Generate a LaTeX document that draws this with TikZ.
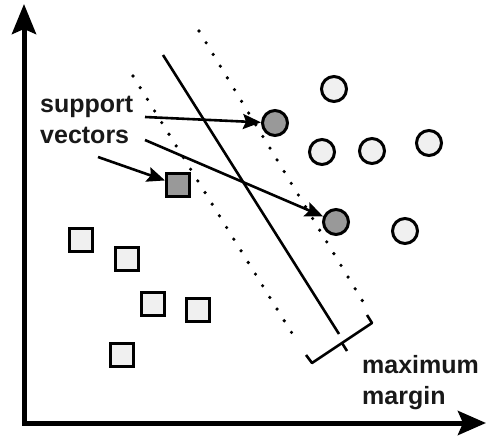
\documentclass[tikz,border=0pt]{standalone}
\usepackage{fontspec}
\setmainfont{Liberation Sans}
\usetikzlibrary{arrows.meta}

\begin{document}
\begin{tikzpicture}[x=1pt,y=-1pt,
    lightsq/.style={draw, line width=3pt, fill=black!6, minimum size=23pt, inner sep=0pt},
    darksq/.style={lightsq, fill=black!40},
    lightpt/.style={draw, circle, line width=3pt, fill=black!6, minimum size=25pt, inner sep=0pt},
    darkpt/.style={lightpt, fill=black!40},
    margin/.style={line width=3.6pt, line cap=round, dash pattern=on 0pt off 13.7pt},
    pointer/.style={line width=2.6pt, -{Stealth[length=18pt,width=15pt,inset=3pt]}},
    lbl/.style={font=\bfseries\fontsize{25}{31}\selectfont, text=black!90, align=left, inner sep=0pt}]
    \useasboundingbox (0,0) rectangle (487,436);

    % axes
    \coordinate (origin) at (24,423);
    \coordinate (ytip) at (24,4);
    \coordinate (xtip) at (486,423);
    \draw[line width=5pt, line join=miter, {Stealth[length=30pt,width=24pt,inset=5pt]}-{Stealth[length=28pt,width=24pt,inset=5pt]}] (ytip) -- (origin) -- (xtip);

    % margins and separating line
    \draw[margin] (199,31) -- (368,310);
    \draw[margin] (133,76) -- (298,343);
    \draw[line width=2.6pt] (163,55) -- (339,334);

    % bracket
    \draw[line width=2.6pt, line join=round] (306,355) -- (312,363) -- (372,323) -- (367,315);
    \draw[line width=2.6pt] (342,343) -- (347,351);

    % squares
    \node[lightsq] (sqa) at (81,240) {};
    \node[lightsq] (sqb) at (127,259) {};
    \node[lightsq] (sqc) at (153,304) {};
    \node[lightsq] (sqd) at (198,310) {};
    \node[lightsq] (sqe) at (122,355) {};
    \node[darksq] (sqsv) at (178,185) {};

    % circles
    \node[lightpt] (pta) at (334,89) {};
    \node[lightpt] (ptb) at (322,152) {};
    \node[lightpt] (ptc) at (372,151) {};
    \node[lightpt] (ptd) at (429,143) {};
    \node[lightpt] (pte) at (405,231) {};
    \node[darkpt] (ptsva) at (275,123) {};
    \node[darkpt] (ptsvb) at (336,222) {};

    % labels (base = last line)
    \node[lbl, anchor=base west] (svtext) at (40,143) {support\\vectors};
    \node[lbl, anchor=base west] (mmtext) at (362,404) {maximum\\margin};

    \coordinate (fromsup) at (145,117);
    \coordinate (fromvec) at (145,140);
    \coordinate (fromleft) at (98,157);
    \draw[pointer] (fromsup) -- (ptsva);
    \draw[pointer] (fromvec) -- (ptsvb);
    \draw[pointer] (fromleft) -- (sqsv);
\end{tikzpicture}
\end{document}
